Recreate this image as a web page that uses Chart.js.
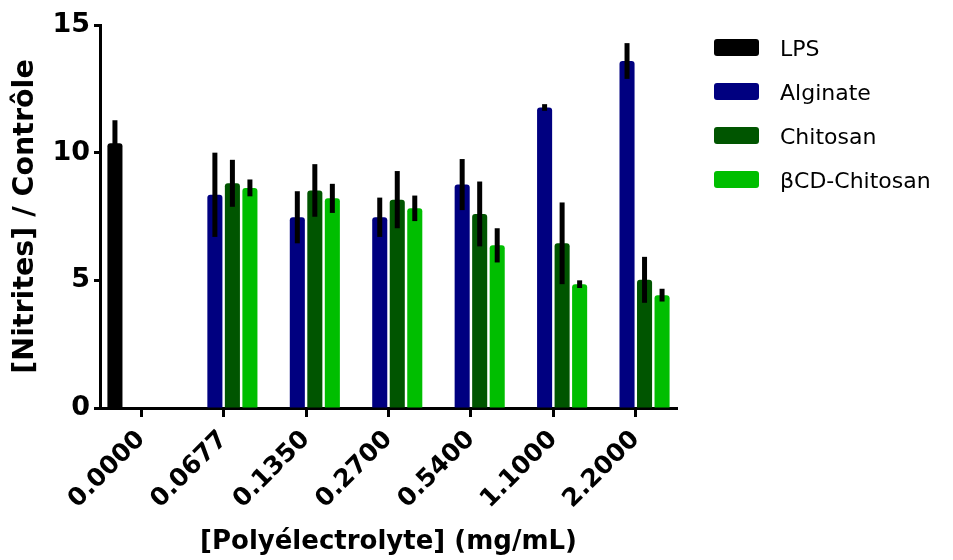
<!DOCTYPE html>
<html>
<head>
<meta charset="utf-8">
<script src="https://cdn.jsdelivr.net/npm/chart.js@4/dist/chart.umd.min.js"></script>
<style>
  html, body { margin: 0; padding: 0; background: #fff; }
  #wrap { position: relative; width: 953px; height: 560px; }
  #legend .box { position: absolute; left: 714px; width: 45px; height: 17px; border-radius: 3px; }
  #legend .lbl { position: absolute; left: 780px; font: 22px "DejaVu Sans", sans-serif; line-height: 22px; color: #000; white-space: nowrap; }
</style>
</head>
<body>
<div id="wrap">
  <canvas id="nitrites" width="953" height="560"></canvas>
  <div id="legend"></div>
</div>
<script>
const concentrations = ['0.0000', '0.0677', '0.1350', '0.2700', '0.5400', '1.1000', '2.2000'];

const lps         = [10.37, null, null, null, null, null, null];
const lpsErr      = [0.9, null, null, null, null, null, null];
const alginate    = [null, 8.35, 7.47, 7.47, 8.75, 11.77, 13.59];
const alginateErr = [null, 1.65, 1.02, 0.77, 1.0, 0.13, 0.7];
const chitosan    = [null, 8.8, 8.52, 8.16, 7.6, 6.45, 5.02];
const chitosanErr = [null, 0.92, 1.03, 1.12, 1.27, 1.6, 0.9];
const bcdChitosan = [null, 8.62, 8.21, 7.82, 6.37, 4.85, 4.42];
const bcdErr      = [null, 0.33, 0.57, 0.5, 0.67, 0.15, 0.25];

const yTicks = [0, 5, 10, 15];

const seriesNames  = ['LPS', 'Alginate', 'Chitosan', '\u03B2CD-Chitosan'];
const seriesColors = ['#000000', '#000080', '#005500', '#00be00'];
const seriesData   = [lps, alginate, chitosan, bcdChitosan];
const seriesErr    = [lpsErr, alginateErr, chitosanErr, bcdErr];

// vertical SEM bars, no caps, like the prism export
const errorBars = {
  id: 'errorBars',
  afterDatasetsDraw(chart) {
    const ctx = chart.ctx;
    const y = chart.scales.y;
    ctx.save();
    ctx.strokeStyle = '#000';
    ctx.lineWidth = 5;
    ctx.lineCap = 'butt';
    chart.data.datasets.forEach((ds, di) => {
      const meta = chart.getDatasetMeta(di);
      meta.data.forEach((bar, i) => {
        const v = ds.data[i];
        const e = ds.errors[i];
        if (v == null || e == null) return;
        ctx.beginPath();
        ctx.moveTo(bar.x, y.getPixelForValue(v + e));
        ctx.lineTo(bar.x, y.getPixelForValue(v - e));
        ctx.stroke();
      });
    });
    ctx.restore();
  }
};

const chart = new Chart(document.getElementById('nitrites'), {
  type: 'bar',
  data: {
    labels: concentrations,
    datasets: seriesNames.map((name, i) => ({
      label: name,
      data: seriesData[i],
      errors: seriesErr[i],
      backgroundColor: seriesColors[i],
      borderWidth: 0,
      borderRadius: 3,
      categoryPercentage: 0.85,
      barPercentage: 0.86
    }))
  },
  options: {
    responsive: false,
    animation: false,
    layout: { padding: { top: 25, right: 276, left: 0, bottom: 0 } },
    plugins: {
      legend: { display: false },
      tooltip: { enabled: false }
    },
    scales: {
      x: {
        afterFit: (s) => { s.height = 152; },
        border: { color: '#000', width: 3 },
        grid: { offset: false, drawOnChartArea: false, drawTicks: true, tickLength: 9, tickWidth: 3, color: '#000' },
        ticks: {
          color: '#000',
          font: { family: 'DejaVu Sans', weight: 'bold', size: 25 },
          minRotation: 45,
          maxRotation: 45,
          padding: 8
        },
        title: {
          display: true,
          text: '[Poly\u00E9lectrolyte] (mg/mL)',
          color: '#000',
          font: { family: 'DejaVu Sans', weight: 'bold', size: 26 },
          padding: { top: 4, bottom: 2 }
        }
      },
      y: {
        min: 0,
        max: 15,
        afterFit: (s) => { s.width = 100; },
        afterBuildTicks: (s) => { s.ticks = yTicks.map(v => ({ value: v })); },
        border: { color: '#000', width: 3 },
        grid: { drawOnChartArea: false, drawTicks: true, tickLength: 6, tickWidth: 3, color: '#000' },
        ticks: {
          color: '#000',
          font: { family: 'DejaVu Sans', weight: 'bold', size: 27 },
          padding: 4
        },
        title: {
          display: true,
          text: '[Nitrites] / Contr\u00F4le',
          color: '#000',
          font: { family: 'DejaVu Sans', weight: 'bold', size: 28.5 },
          padding: { top: 8, bottom: 4 }
        }
      }
    }
  },
  plugins: [errorBars]
});

// html legend on the right
const legend = document.getElementById('legend');
seriesNames.forEach((name, i) => {
  const box = document.createElement('div');
  box.className = 'box';
  box.style.top = (39 + i * 44) + 'px';
  box.style.background = seriesColors[i];
  legend.appendChild(box);
  const lbl = document.createElement('div');
  lbl.className = 'lbl';
  lbl.style.top = (38 + i * 44) + 'px';
  lbl.textContent = name;
  legend.appendChild(lbl);
});
</script>
</body>
</html>
